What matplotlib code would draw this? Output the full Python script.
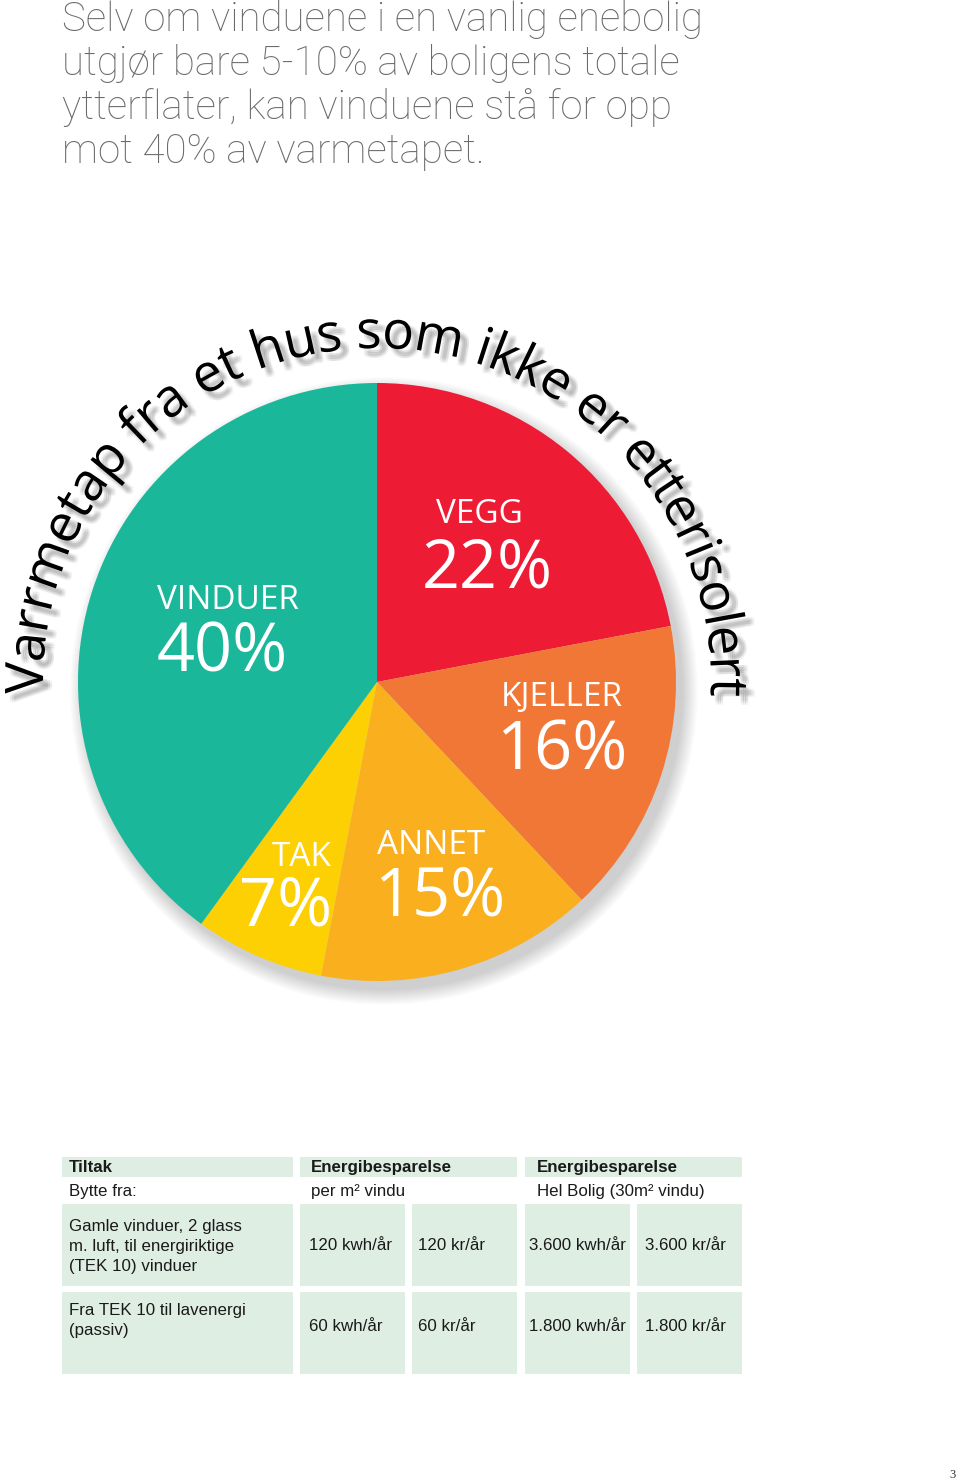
import numpy as np
import matplotlib.pyplot as plt
import matplotlib.patheffects as pe
from matplotlib.patches import Circle, Rectangle
from matplotlib.font_manager import FontProperties, findfont, get_font

W, H = 960, 1484
DPI = 100

# pie data, clockwise from 12 o'clock
slice_names = ["VEGG", "KJELLER", "ANNET", "TAK", "VINDUER"]
slice_values = [22, 16, 15, 7, 40]
slice_colors = ["#ED1B34", "#F07735", "#FAAF1E", "#FDD003", "#1BB79B"]

arc_title = "Varrmetap fra et hus som ikke er etterisolert"

intro_lines = [
    "Selv om vinduene i en vanlig enebolig",
    "utgjør bare 5-10% av boligens totale",
    "ytterflater, kan vinduene stå for opp",
    "mot 40% av varmetapet.",
]

# table
table_header = ["Tiltak", "Energibesparelse", "Energibesparelse"]
table_subheader = ["Bytte fra:", "per m² vindu", "Hel Bolig (30m² vindu)"]
row_labels = [
    ["Gamle vinduer, 2 glass", "m. luft, til energiriktige", "(TEK 10) vinduer"],
    ["Fra TEK 10 til lavenergi", "(passiv)"],
]
kwh_per_m2 = [120, 60]
kr_per_m2 = [120, 60]
kwh_house = [3600, 1800]
kr_house = [3600, 1800]

TABLE_GREEN = "#DFEEE3"
PIE_FONT = "Open Sans"
TABLE_FONT = "Liberation Sans"


def Y(y_img):
    # image pixel row -> data y
    return H - y_img


def nok(v):
    return f"{v:,}".replace(",", ".")


fig = plt.figure(figsize=(W / DPI, H / DPI), dpi=DPI)
ax = fig.add_axes([0, 0, 1, 1])

# ---- pie ----
CX, CY, R = 377, Y(682), 299

# soft shadow behind the pie
for i in range(16):
    ax.add_patch(Circle((CX + 7, CY - 9), R + i * 1.0, facecolor="black",
                        edgecolor="none", alpha=0.010, zorder=1))

wedges, _ = ax.pie(
    slice_values,
    colors=slice_colors,
    startangle=90,
    counterclock=False,
    center=(CX, CY),
    radius=R,
    frame=True,
    wedgeprops=dict(linewidth=0),
)
for w in wedges:
    w.set_zorder(2)

ax.set_xlim(0, W)
ax.set_ylim(0, H)
ax.set_aspect("auto")
ax.axis("off")
ax.set_position([0, 0, 1, 1])

# slice labels: (name x, name baseline, pct x, pct baseline) in image px
label_pos = {
    "VINDUER": (157, 609, 157, 672),
    "VEGG": (436, 523, 422, 587),
    "KJELLER": (501, 706, 496, 770),
    "TAK": (272, 866, 239, 925),
    "ANNET": (377, 854, 374, 915),
}
for name, val in zip(slice_names, slice_values):
    nx, ny, px, py = label_pos[name]
    ax.text(nx, Y(ny), name, color="white", fontsize=24, family=PIE_FONT,
            ha="left", va="baseline", zorder=5)
    ax.text(px, Y(py), f"{val}%", color="white", fontsize=48, family=PIE_FONT,
            ha="left", va="baseline", zorder=5)


# ---- curved title around the pie ----
def arc_text(s, cx, cy, r, a_start, a_end, family, grow=1.0):
    fp = FontProperties(family=family)
    font = get_font(findfont(fp))
    font.set_size(10, DPI)
    adv = np.array([font.load_char(ord(ch)).linearHoriAdvance / 65536 for ch in s])
    arc = np.deg2rad(a_start - a_end) * r
    scale = arc / adv.sum()
    size = 10 * scale * grow
    centers = (np.cumsum(adv) - adv / 2) * scale
    shadow = [
        pe.SimplePatchShadow(offset=(5 + dx, -5 + dy), shadow_rgbFace="black", alpha=0.04)
        for dx in (-1.5, 0, 1.5) for dy in (-1.5, 0, 1.5)
    ]
    for ch, c in zip(s, centers):
        if ch == " ":
            continue
        th = np.deg2rad(a_start) - c / r
        ax.text(cx + r * np.cos(th), cy + r * np.sin(th), ch,
                rotation=np.rad2deg(th) - 90, rotation_mode="anchor",
                ha="center", va="baseline", fontsize=size, family=family,
                color="black", zorder=6, path_effects=shadow + [pe.Normal()])


arc_text(arc_title, CX, CY, 334, 182, -2.5, PIE_FONT, grow=1.02)

# ---- intro text ----
for i, line in enumerate(intro_lines):
    ax.text(62, Y(31 + i * 44), line, fontsize=29, family="Roboto",
            fontweight=100, color="#6a6a6a", ha="left", va="baseline")

# ---- table ----
col_x = [(62, 293), (300, 405), (412, 517), (525, 630), (637, 742)]
head_x = [(62, 293), (300, 517), (525, 742)]
head_y = (1157, 1177)
row_y = [(1204, 1286), (1292, 1374)]
tkw = dict(fontsize=12.2, family=TABLE_FONT, color="#1a1a1a", ha="left", va="baseline")

for (x0, x1) in head_x:
    ax.add_patch(Rectangle((x0, Y(head_y[1])), x1 - x0, head_y[1] - head_y[0],
                           facecolor=TABLE_GREEN, edgecolor="none", zorder=1))
for (y0, y1) in row_y:
    for (x0, x1) in col_x:
        ax.add_patch(Rectangle((x0, Y(y1)), x1 - x0, y1 - y0,
                               facecolor=TABLE_GREEN, edgecolor="none", zorder=1))

head_tx = [69, 311, 537]
for tx, h, sub in zip(head_tx, table_header, table_subheader):
    ax.text(tx, Y(1172), h, fontweight="bold", **tkw)
    ax.text(tx, Y(1196), sub, **tkw)

label_base = [1231, 1315]
value_base = [1250, 1331]
value_tx = [309, 418, 529, 645]
for i, lines in enumerate(row_labels):
    for j, line in enumerate(lines):
        ax.text(69, Y(label_base[i] + j * 20), line, **tkw)
    vals = [f"{kwh_per_m2[i]} kwh/år", f"{kr_per_m2[i]} kr/år",
            f"{nok(kwh_house[i])} kwh/år", f"{nok(kr_house[i])} kr/år"]
    for tx, v in zip(value_tx, vals):
        ax.text(tx, Y(value_base[i]), v, **tkw)

# page number
ax.text(956, Y(1478), "3", fontsize=9, family="Liberation Serif", color="#333333",
        ha="right", va="baseline")

fig.savefig("out.png", dpi=DPI)
